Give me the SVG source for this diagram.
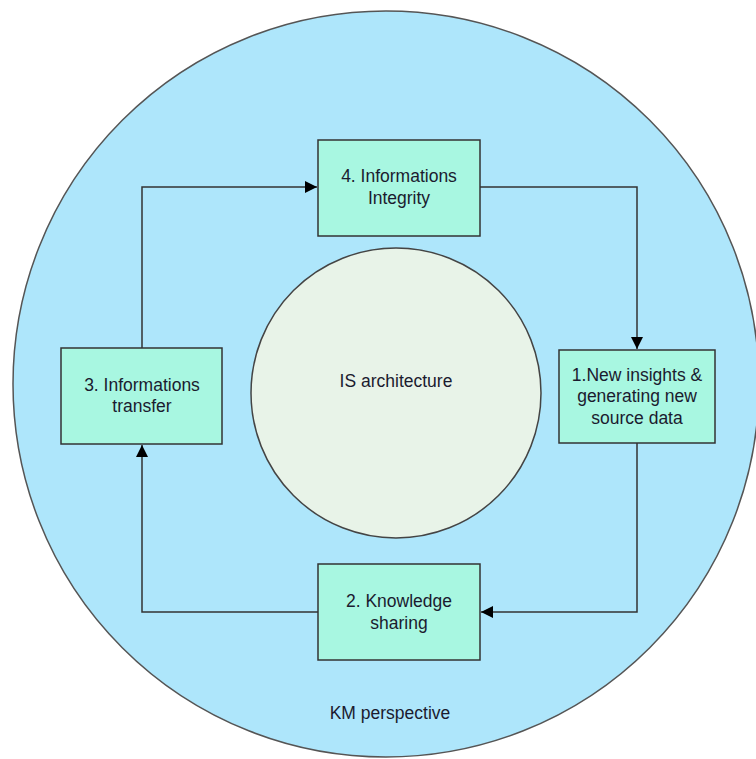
<svg xmlns="http://www.w3.org/2000/svg" width="756" height="759" viewBox="0 0 756 759">
<defs>
<style>
text{font-family:"Liberation Sans",Arial,sans-serif;font-size:17.5px;fill:#1b1b2f;text-anchor:middle}
.box{fill:#a8f7e1;stroke:#333;stroke-width:1.5}
.conn{fill:none;stroke:#333;stroke-width:1.5}
</style>
<marker id="arr" viewBox="0 0 10 10" refX="10" refY="5" markerWidth="12" markerHeight="12" markerUnits="userSpaceOnUse" orient="auto"><path d="M0,0 L10,5 L0,10 z" fill="#000"/></marker>
</defs>
<rect width="756" height="759" fill="#fff"/>
<g id="km">
<circle cx="386" cy="384" r="373" fill="#aee6fb" stroke="#555" stroke-width="1.5"/>
<text x="390" y="719">KM perspective</text>
</g>
<g id="is">
<circle cx="396" cy="393" r="145" fill="#e8f3e8" stroke="#444" stroke-width="1.5"/>
<text x="396" y="387">IS architecture</text>
</g>
<g id="connectors">
<path class="conn" d="M480,187 H637 V349" marker-end="url(#arr)"/>
<path class="conn" d="M637,443 V612 H481" marker-end="url(#arr)"/>
<path class="conn" d="M318,612 H142 V445" marker-end="url(#arr)"/>
<path class="conn" d="M142,348 V187 H317" marker-end="url(#arr)"/>
</g>
<g id="n4">
<rect class="box" x="318" y="140" width="162" height="96"/>
<text x="399" y="182">4. Informations</text>
<text x="399" y="204">Integrity</text>
</g>
<g id="n1">
<rect class="box" x="559" y="350" width="156" height="93"/>
<text x="637" y="381">1.New insights &amp;</text>
<text x="637" y="402">generating new</text>
<text x="637" y="424">source data</text>
</g>
<g id="n2">
<rect class="box" x="318" y="564" width="162" height="96"/>
<text x="399" y="607">2. Knowledge</text>
<text x="399" y="629">sharing</text>
</g>
<g id="n3">
<rect class="box" x="61" y="348" width="161" height="96"/>
<text x="142" y="391">3. Informations</text>
<text x="142" y="412">transfer</text>
</g>
</svg>
